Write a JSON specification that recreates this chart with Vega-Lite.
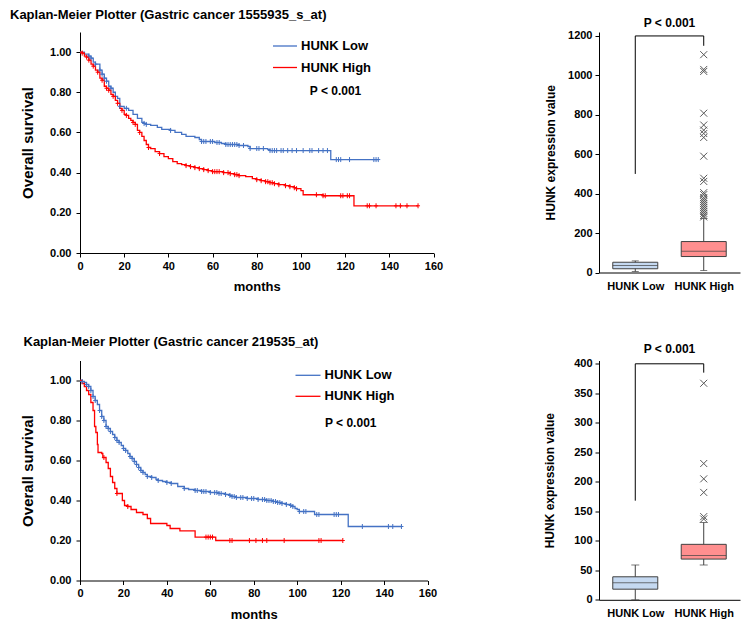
{
"$schema": "https://vega.github.io/schema/vega-lite/v6.json",
"padding": {"left": 10, "top": 9, "right": 5, "bottom": 5},
"columns": 2,
"spacing": {"row": 87.5, "column": 165},
"bounds": "flush",
"align": "each",
"resolve": {"scale": {"stroke": "independent", "fill": "independent", "x": "independent", "y": "independent"}, "legend": {"stroke": "independent"}},
"config": {
  "view": {"stroke": null},
  "font": "Liberation Sans",
  "axis": {"grid": false, "domainColor": "#000", "tickColor": "#000", "labelColor": "#000", "titleColor": "#000", "labelFontWeight": "bold", "titleFontWeight": "bold", "labelFontSize": 11, "tickSize": 4, "labelFont": "Liberation Sans", "titleFont": "Liberation Sans", "labelFlush": false, "labelOverlap": false}
},
"datasets": {
  "km1": [
    {"t":0,"s":1.0,"g":"HUNK Low","c":0},{"t":2,"s":0.99,"g":"HUNK Low","c":0},{"t":4,"s":0.98,"g":"HUNK Low","c":1},{"t":5,"s":0.97,"g":"HUNK Low","c":1},{"t":6,"s":0.95,"g":"HUNK Low","c":0},{"t":7,"s":0.94,"g":"HUNK Low","c":1},{"t":9,"s":0.91,"g":"HUNK Low","c":1},{"t":10,"s":0.89,"g":"HUNK Low","c":1},{"t":11,"s":0.87,"g":"HUNK Low","c":1},{"t":12,"s":0.855,"g":"HUNK Low","c":1},{"t":13,"s":0.83,"g":"HUNK Low","c":0},{"t":14,"s":0.82,"g":"HUNK Low","c":1},{"t":15,"s":0.8,"g":"HUNK Low","c":0},{"t":16,"s":0.78,"g":"HUNK Low","c":0},{"t":17,"s":0.77,"g":"HUNK Low","c":0},{"t":18,"s":0.73,"g":"HUNK Low","c":1},{"t":20,"s":0.72,"g":"HUNK Low","c":0},{"t":21,"s":0.72,"g":"HUNK Low","c":1},{"t":22,"s":0.71,"g":"HUNK Low","c":0},{"t":24,"s":0.69,"g":"HUNK Low","c":0},{"t":26,"s":0.67,"g":"HUNK Low","c":0},{"t":28,"s":0.65,"g":"HUNK Low","c":0},{"t":29,"s":0.645,"g":"HUNK Low","c":1},{"t":30,"s":0.64,"g":"HUNK Low","c":1},{"t":32,"s":0.635,"g":"HUNK Low","c":0},{"t":35,"s":0.625,"g":"HUNK Low","c":0},{"t":37,"s":0.615,"g":"HUNK Low","c":0},{"t":41,"s":0.61,"g":"HUNK Low","c":1},{"t":43,"s":0.6,"g":"HUNK Low","c":0},{"t":46,"s":0.59,"g":"HUNK Low","c":0},{"t":48,"s":0.58,"g":"HUNK Low","c":0},{"t":52,"s":0.575,"g":"HUNK Low","c":0},{"t":54,"s":0.565,"g":"HUNK Low","c":0},{"t":55,"s":0.555,"g":"HUNK Low","c":1},{"t":56,"s":0.555,"g":"HUNK Low","c":1},{"t":57,"s":0.555,"g":"HUNK Low","c":1},{"t":59,"s":0.555,"g":"HUNK Low","c":1},{"t":60,"s":0.555,"g":"HUNK Low","c":1},{"t":61,"s":0.55,"g":"HUNK Low","c":0},{"t":62,"s":0.55,"g":"HUNK Low","c":1},{"t":63,"s":0.55,"g":"HUNK Low","c":1},{"t":64,"s":0.545,"g":"HUNK Low","c":0},{"t":66,"s":0.54,"g":"HUNK Low","c":1},{"t":67,"s":0.54,"g":"HUNK Low","c":1},{"t":68,"s":0.54,"g":"HUNK Low","c":1},{"t":69,"s":0.54,"g":"HUNK Low","c":1},{"t":70,"s":0.54,"g":"HUNK Low","c":1},{"t":71,"s":0.54,"g":"HUNK Low","c":1},{"t":72,"s":0.535,"g":"HUNK Low","c":1},{"t":74,"s":0.535,"g":"HUNK Low","c":1},{"t":76,"s":0.53,"g":"HUNK Low","c":0},{"t":77,"s":0.52,"g":"HUNK Low","c":1},{"t":80,"s":0.52,"g":"HUNK Low","c":1},{"t":81,"s":0.52,"g":"HUNK Low","c":1},{"t":83,"s":0.52,"g":"HUNK Low","c":1},{"t":85,"s":0.515,"g":"HUNK Low","c":0},{"t":86,"s":0.51,"g":"HUNK Low","c":1},{"t":87,"s":0.51,"g":"HUNK Low","c":1},{"t":88,"s":0.51,"g":"HUNK Low","c":1},{"t":89,"s":0.51,"g":"HUNK Low","c":1},{"t":91,"s":0.51,"g":"HUNK Low","c":1},{"t":92,"s":0.51,"g":"HUNK Low","c":1},{"t":94,"s":0.51,"g":"HUNK Low","c":1},{"t":96,"s":0.51,"g":"HUNK Low","c":1},{"t":98,"s":0.51,"g":"HUNK Low","c":1},{"t":101,"s":0.51,"g":"HUNK Low","c":1},{"t":104,"s":0.51,"g":"HUNK Low","c":1},{"t":105,"s":0.51,"g":"HUNK Low","c":1},{"t":108,"s":0.51,"g":"HUNK Low","c":1},{"t":110,"s":0.51,"g":"HUNK Low","c":1},{"t":112,"s":0.51,"g":"HUNK Low","c":1},{"t":113.5,"s":0.465,"g":"HUNK Low","c":0},{"t":116,"s":0.465,"g":"HUNK Low","c":1},{"t":117,"s":0.465,"g":"HUNK Low","c":1},{"t":118,"s":0.465,"g":"HUNK Low","c":1},{"t":122,"s":0.465,"g":"HUNK Low","c":1},{"t":133,"s":0.465,"g":"HUNK Low","c":1},{"t":134,"s":0.465,"g":"HUNK Low","c":1},{"t":135,"s":0.465,"g":"HUNK Low","c":1},
    {"t":0,"s":1.0,"g":"HUNK High","c":0},{"t":1,"s":0.995,"g":"HUNK High","c":1},{"t":2,"s":0.98,"g":"HUNK High","c":0},{"t":3,"s":0.975,"g":"HUNK High","c":1},{"t":4,"s":0.96,"g":"HUNK High","c":1},{"t":5,"s":0.94,"g":"HUNK High","c":0},{"t":6,"s":0.93,"g":"HUNK High","c":1},{"t":7,"s":0.91,"g":"HUNK High","c":0},{"t":8,"s":0.9,"g":"HUNK High","c":1},{"t":9,"s":0.87,"g":"HUNK High","c":0},{"t":10,"s":0.86,"g":"HUNK High","c":1},{"t":11,"s":0.83,"g":"HUNK High","c":0},{"t":12,"s":0.82,"g":"HUNK High","c":1},{"t":13,"s":0.81,"g":"HUNK High","c":1},{"t":14,"s":0.79,"g":"HUNK High","c":0},{"t":15,"s":0.78,"g":"HUNK High","c":1},{"t":16,"s":0.76,"g":"HUNK High","c":0},{"t":17,"s":0.745,"g":"HUNK High","c":1},{"t":18,"s":0.72,"g":"HUNK High","c":0},{"t":19,"s":0.71,"g":"HUNK High","c":1},{"t":20,"s":0.69,"g":"HUNK High","c":0},{"t":21,"s":0.685,"g":"HUNK High","c":1},{"t":22,"s":0.67,"g":"HUNK High","c":0},{"t":23,"s":0.66,"g":"HUNK High","c":0},{"t":24,"s":0.65,"g":"HUNK High","c":1},{"t":25,"s":0.64,"g":"HUNK High","c":1},{"t":26,"s":0.61,"g":"HUNK High","c":0},{"t":27,"s":0.6,"g":"HUNK High","c":1},{"t":28,"s":0.58,"g":"HUNK High","c":0},{"t":29,"s":0.56,"g":"HUNK High","c":0},{"t":30,"s":0.54,"g":"HUNK High","c":0},{"t":31,"s":0.525,"g":"HUNK High","c":1},{"t":32,"s":0.52,"g":"HUNK High","c":0},{"t":34,"s":0.505,"g":"HUNK High","c":0},{"t":36,"s":0.495,"g":"HUNK High","c":1},{"t":38,"s":0.48,"g":"HUNK High","c":0},{"t":40,"s":0.47,"g":"HUNK High","c":0},{"t":42,"s":0.455,"g":"HUNK High","c":0},{"t":44,"s":0.445,"g":"HUNK High","c":0},{"t":46,"s":0.44,"g":"HUNK High","c":0},{"t":48,"s":0.435,"g":"HUNK High","c":1},{"t":50,"s":0.43,"g":"HUNK High","c":1},{"t":52,"s":0.425,"g":"HUNK High","c":1},{"t":54,"s":0.42,"g":"HUNK High","c":1},{"t":56,"s":0.415,"g":"HUNK High","c":1},{"t":58,"s":0.41,"g":"HUNK High","c":1},{"t":60,"s":0.405,"g":"HUNK High","c":1},{"t":61,"s":0.405,"g":"HUNK High","c":1},{"t":62,"s":0.405,"g":"HUNK High","c":1},{"t":63,"s":0.405,"g":"HUNK High","c":1},{"t":65,"s":0.4,"g":"HUNK High","c":1},{"t":67,"s":0.4,"g":"HUNK High","c":1},{"t":68,"s":0.395,"g":"HUNK High","c":1},{"t":70,"s":0.39,"g":"HUNK High","c":1},{"t":71,"s":0.39,"g":"HUNK High","c":1},{"t":72,"s":0.385,"g":"HUNK High","c":1},{"t":75,"s":0.38,"g":"HUNK High","c":0},{"t":78,"s":0.37,"g":"HUNK High","c":0},{"t":80,"s":0.365,"g":"HUNK High","c":1},{"t":82,"s":0.36,"g":"HUNK High","c":1},{"t":84,"s":0.355,"g":"HUNK High","c":1},{"t":85,"s":0.355,"g":"HUNK High","c":1},{"t":86,"s":0.35,"g":"HUNK High","c":1},{"t":87,"s":0.35,"g":"HUNK High","c":1},{"t":88,"s":0.345,"g":"HUNK High","c":1},{"t":90,"s":0.34,"g":"HUNK High","c":1},{"t":93,"s":0.335,"g":"HUNK High","c":1},{"t":95,"s":0.33,"g":"HUNK High","c":1},{"t":97,"s":0.325,"g":"HUNK High","c":1},{"t":98,"s":0.32,"g":"HUNK High","c":1},{"t":100,"s":0.31,"g":"HUNK High","c":0},{"t":101,"s":0.29,"g":"HUNK High","c":0},{"t":107,"s":0.29,"g":"HUNK High","c":1},{"t":110,"s":0.285,"g":"HUNK High","c":1},{"t":111,"s":0.285,"g":"HUNK High","c":1},{"t":118,"s":0.285,"g":"HUNK High","c":1},{"t":119,"s":0.285,"g":"HUNK High","c":1},{"t":121,"s":0.285,"g":"HUNK High","c":1},{"t":122,"s":0.285,"g":"HUNK High","c":1},{"t":124,"s":0.235,"g":"HUNK High","c":0},{"t":130,"s":0.235,"g":"HUNK High","c":1},{"t":131,"s":0.235,"g":"HUNK High","c":1},{"t":134,"s":0.235,"g":"HUNK High","c":1},{"t":143,"s":0.235,"g":"HUNK High","c":1},{"t":145,"s":0.235,"g":"HUNK High","c":1},{"t":148,"s":0.235,"g":"HUNK High","c":1},{"t":153,"s":0.235,"g":"HUNK High","c":1}
  ],
  "km2": [
    {"t":0,"s":1.0,"g":"HUNK Low","c":0},{"t":1,"s":0.995,"g":"HUNK Low","c":1},{"t":2,"s":0.99,"g":"HUNK Low","c":0},{"t":3,"s":0.98,"g":"HUNK Low","c":1},{"t":4,"s":0.97,"g":"HUNK Low","c":1},{"t":5,"s":0.95,"g":"HUNK Low","c":1},{"t":6,"s":0.92,"g":"HUNK Low","c":1},{"t":7,"s":0.9,"g":"HUNK Low","c":1},{"t":8,"s":0.88,"g":"HUNK Low","c":0},{"t":9,"s":0.85,"g":"HUNK Low","c":1},{"t":10,"s":0.82,"g":"HUNK Low","c":1},{"t":11,"s":0.8,"g":"HUNK Low","c":1},{"t":12,"s":0.77,"g":"HUNK Low","c":1},{"t":13,"s":0.76,"g":"HUNK Low","c":1},{"t":14,"s":0.745,"g":"HUNK Low","c":1},{"t":15,"s":0.73,"g":"HUNK Low","c":0},{"t":16,"s":0.715,"g":"HUNK Low","c":1},{"t":17,"s":0.7,"g":"HUNK Low","c":1},{"t":18,"s":0.69,"g":"HUNK Low","c":1},{"t":19,"s":0.675,"g":"HUNK Low","c":0},{"t":20,"s":0.66,"g":"HUNK Low","c":1},{"t":21,"s":0.65,"g":"HUNK Low","c":1},{"t":22,"s":0.635,"g":"HUNK Low","c":0},{"t":23,"s":0.62,"g":"HUNK Low","c":1},{"t":24,"s":0.61,"g":"HUNK Low","c":1},{"t":25,"s":0.595,"g":"HUNK Low","c":1},{"t":26,"s":0.58,"g":"HUNK Low","c":1},{"t":27,"s":0.565,"g":"HUNK Low","c":1},{"t":28,"s":0.55,"g":"HUNK Low","c":1},{"t":29,"s":0.54,"g":"HUNK Low","c":1},{"t":30,"s":0.53,"g":"HUNK Low","c":0},{"t":31,"s":0.52,"g":"HUNK Low","c":1},{"t":33,"s":0.515,"g":"HUNK Low","c":1},{"t":35,"s":0.505,"g":"HUNK Low","c":0},{"t":36,"s":0.5,"g":"HUNK Low","c":1},{"t":38,"s":0.495,"g":"HUNK Low","c":0},{"t":40,"s":0.49,"g":"HUNK Low","c":1},{"t":42,"s":0.485,"g":"HUNK Low","c":1},{"t":45,"s":0.47,"g":"HUNK Low","c":0},{"t":48,"s":0.46,"g":"HUNK Low","c":1},{"t":50,"s":0.455,"g":"HUNK Low","c":0},{"t":53,"s":0.45,"g":"HUNK Low","c":1},{"t":54,"s":0.45,"g":"HUNK Low","c":1},{"t":56,"s":0.445,"g":"HUNK Low","c":1},{"t":57,"s":0.445,"g":"HUNK Low","c":1},{"t":58,"s":0.445,"g":"HUNK Low","c":1},{"t":60,"s":0.44,"g":"HUNK Low","c":1},{"t":62,"s":0.44,"g":"HUNK Low","c":1},{"t":63,"s":0.44,"g":"HUNK Low","c":1},{"t":64,"s":0.435,"g":"HUNK Low","c":1},{"t":65,"s":0.435,"g":"HUNK Low","c":1},{"t":67,"s":0.43,"g":"HUNK Low","c":1},{"t":69,"s":0.425,"g":"HUNK Low","c":1},{"t":70,"s":0.42,"g":"HUNK Low","c":1},{"t":71,"s":0.42,"g":"HUNK Low","c":1},{"t":72,"s":0.415,"g":"HUNK Low","c":1},{"t":74,"s":0.415,"g":"HUNK Low","c":1},{"t":75,"s":0.415,"g":"HUNK Low","c":1},{"t":77,"s":0.41,"g":"HUNK Low","c":1},{"t":79,"s":0.41,"g":"HUNK Low","c":1},{"t":80,"s":0.41,"g":"HUNK Low","c":1},{"t":82,"s":0.405,"g":"HUNK Low","c":1},{"t":84,"s":0.405,"g":"HUNK Low","c":1},{"t":85,"s":0.405,"g":"HUNK Low","c":1},{"t":86,"s":0.4,"g":"HUNK Low","c":1},{"t":87,"s":0.4,"g":"HUNK Low","c":1},{"t":88,"s":0.4,"g":"HUNK Low","c":1},{"t":89,"s":0.395,"g":"HUNK Low","c":1},{"t":90,"s":0.395,"g":"HUNK Low","c":1},{"t":91,"s":0.39,"g":"HUNK Low","c":1},{"t":92,"s":0.39,"g":"HUNK Low","c":1},{"t":93,"s":0.385,"g":"HUNK Low","c":1},{"t":95,"s":0.38,"g":"HUNK Low","c":1},{"t":97,"s":0.375,"g":"HUNK Low","c":1},{"t":98,"s":0.37,"g":"HUNK Low","c":1},{"t":99,"s":0.36,"g":"HUNK Low","c":0},{"t":100,"s":0.355,"g":"HUNK Low","c":0},{"t":101,"s":0.345,"g":"HUNK Low","c":1},{"t":103,"s":0.345,"g":"HUNK Low","c":1},{"t":104,"s":0.345,"g":"HUNK Low","c":1},{"t":108,"s":0.33,"g":"HUNK Low","c":0},{"t":109,"s":0.33,"g":"HUNK Low","c":1},{"t":110,"s":0.33,"g":"HUNK Low","c":1},{"t":117,"s":0.33,"g":"HUNK Low","c":1},{"t":118,"s":0.33,"g":"HUNK Low","c":1},{"t":119,"s":0.33,"g":"HUNK Low","c":1},{"t":123.5,"s":0.27,"g":"HUNK Low","c":0},{"t":130,"s":0.27,"g":"HUNK Low","c":1},{"t":142,"s":0.27,"g":"HUNK Low","c":1},{"t":144,"s":0.27,"g":"HUNK Low","c":1},{"t":148,"s":0.27,"g":"HUNK Low","c":1},
    {"t":0,"s":1.0,"g":"HUNK High","c":0},{"t":1,"s":0.985,"g":"HUNK High","c":0},{"t":2,"s":0.97,"g":"HUNK High","c":0},{"t":3,"s":0.95,"g":"HUNK High","c":0},{"t":4,"s":0.93,"g":"HUNK High","c":0},{"t":5,"s":0.89,"g":"HUNK High","c":0},{"t":6,"s":0.85,"g":"HUNK High","c":0},{"t":6.7,"s":0.77,"g":"HUNK High","c":0},{"t":7.3,"s":0.74,"g":"HUNK High","c":0},{"t":8,"s":0.68,"g":"HUNK High","c":0},{"t":8.3,"s":0.64,"g":"HUNK High","c":0},{"t":10,"s":0.635,"g":"HUNK High","c":0},{"t":10.5,"s":0.615,"g":"HUNK High","c":0},{"t":11,"s":0.615,"g":"HUNK High","c":1},{"t":12,"s":0.59,"g":"HUNK High","c":0},{"t":13,"s":0.56,"g":"HUNK High","c":0},{"t":14,"s":0.52,"g":"HUNK High","c":0},{"t":15,"s":0.49,"g":"HUNK High","c":0},{"t":16,"s":0.46,"g":"HUNK High","c":0},{"t":17,"s":0.435,"g":"HUNK High","c":1},{"t":18.5,"s":0.435,"g":"HUNK High","c":0},{"t":19.5,"s":0.4,"g":"HUNK High","c":0},{"t":20.5,"s":0.375,"g":"HUNK High","c":0},{"t":22,"s":0.37,"g":"HUNK High","c":1},{"t":23.5,"s":0.355,"g":"HUNK High","c":0},{"t":26,"s":0.34,"g":"HUNK High","c":0},{"t":29,"s":0.33,"g":"HUNK High","c":0},{"t":31,"s":0.31,"g":"HUNK High","c":0},{"t":32.5,"s":0.285,"g":"HUNK High","c":0},{"t":40,"s":0.275,"g":"HUNK High","c":0},{"t":41.5,"s":0.26,"g":"HUNK High","c":0},{"t":46,"s":0.248,"g":"HUNK High","c":0},{"t":53,"s":0.217,"g":"HUNK High","c":0},{"t":58,"s":0.217,"g":"HUNK High","c":1},{"t":59,"s":0.217,"g":"HUNK High","c":1},{"t":60,"s":0.217,"g":"HUNK High","c":1},{"t":61,"s":0.217,"g":"HUNK High","c":1},{"t":62.5,"s":0.2,"g":"HUNK High","c":0},{"t":69,"s":0.2,"g":"HUNK High","c":1},{"t":70,"s":0.2,"g":"HUNK High","c":1},{"t":78,"s":0.2,"g":"HUNK High","c":1},{"t":81,"s":0.2,"g":"HUNK High","c":1},{"t":84,"s":0.2,"g":"HUNK High","c":1},{"t":86,"s":0.2,"g":"HUNK High","c":1},{"t":94,"s":0.2,"g":"HUNK High","c":1},{"t":110,"s":0.2,"g":"HUNK High","c":1},{"t":111,"s":0.2,"g":"HUNK High","c":1},{"t":121,"s":0.2,"g":"HUNK High","c":1}
  ],
  "box1": [{"g":"HUNK Low","lo":5,"q1":19,"med":35,"q3":52,"hi":59},{"g":"HUNK High","lo":10,"q1":81,"med":108,"q3":157,"hi":274}],
  "out1": [{"g":"HUNK High","v":1105},{"g":"HUNK High","v":1030},{"g":"HUNK High","v":1020},{"g":"HUNK High","v":808},{"g":"HUNK High","v":748},{"g":"HUNK High","v":722},{"g":"HUNK High","v":705},{"g":"HUNK High","v":685},{"g":"HUNK High","v":590},{"g":"HUNK High","v":478},{"g":"HUNK High","v":462},{"g":"HUNK High","v":405},{"g":"HUNK High","v":395},{"g":"HUNK High","v":380},{"g":"HUNK High","v":370},{"g":"HUNK High","v":360},{"g":"HUNK High","v":350},{"g":"HUNK High","v":340},{"g":"HUNK High","v":330},{"g":"HUNK High","v":320},{"g":"HUNK High","v":310},{"g":"HUNK High","v":300},{"g":"HUNK High","v":290},{"g":"HUNK High","v":282}],
  "leg1": [{"g":"HUNK Low","y1":500,"y2":1200},{"g":"HUNK High","y1":1150,"y2":1200}],
  "top1": [{"a":"HUNK Low","b":"HUNK High","y":1200}],
  "box2": [{"g":"HUNK Low","lo":0,"q1":18,"med":29,"q3":39,"hi":59},{"g":"HUNK High","lo":59,"q1":69,"med":75,"q3":94,"hi":131}],
  "out2": [{"g":"HUNK High","v":367},{"g":"HUNK High","v":231},{"g":"HUNK High","v":205},{"g":"HUNK High","v":182},{"g":"HUNK High","v":141},{"g":"HUNK High","v":137}],
  "leg2": [{"g":"HUNK Low","y1":168,"y2":400},{"g":"HUNK High","y1":385,"y2":400}],
  "top2": [{"a":"HUNK Low","b":"HUNK High","y":400}],
  "p1": [{"t":104,"s":0.806,"label":"P < 0.001"}],
  "p2": [{"t":112.8,"s":0.79,"label":"P < 0.001"}]
},
"concat": [
  {
    "width": 353.5, "height": 221,
    "title": {"text": "Kaplan-Meier Plotter (Gastric cancer 1555935_s_at)", "anchor": "start", "frame": "group", "dx": -70, "offset": -3, "fontSize": 13, "fontWeight": "bold", "font": "Liberation Sans", "baseline": "bottom", "color": "#000"},
    "layer": [
      {"data": {"name": "km1"}, "mark": {"type": "line", "interpolate": "step-after", "strokeWidth": 1.3},
       "encoding": {
         "x": {"field": "t", "type": "quantitative", "scale": {"domain": [0, 160], "nice": false}, "axis": {"values": [0,20,40,60,80,100,120,140,160], "title": "months", "titleFontSize": 13, "titlePadding": 9, "labelPadding": 3}},
         "y": {"field": "s", "type": "quantitative", "scale": {"domain": [0, 1.1], "nice": false}, "axis": {"values": [0,0.2,0.4,0.6,0.8,1], "format": ".2f", "title": "Overall survival", "titleFontSize": 15, "titlePadding": 14, "labelPadding": 5}},
         "stroke": {"field": "g", "type": "nominal", "scale": {"domain": ["HUNK Low", "HUNK High"], "range": ["#4472C4", "#FF0000"]},
           "legend": {"title": null, "orient": "none", "legendX": 192, "legendY": 1, "symbolType": "stroke", "symbolSize": 576, "symbolStrokeWidth": 1.3, "labelFontSize": 13, "labelFontWeight": "bold", "labelFont": "Liberation Sans", "labelColor": "#000", "labelOffset": 3, "rowPadding": 1.5}}
       }},
      {"data": {"name": "km1"}, "transform": [{"filter": "datum.c == 1"}],
       "mark": {"type": "point", "shape": "M0,-1L0,1M-0.8,0L0.8,0", "filled": false, "size": 25, "strokeWidth": 1, "opacity": 1},
       "encoding": {"x": {"field": "t", "type": "quantitative"}, "y": {"field": "s", "type": "quantitative"}, "stroke": {"field": "g", "type": "nominal"}}},
      {"data": {"name": "p1"}, "mark": {"type": "text", "align": "left", "baseline": "middle", "fontSize": 12, "fontWeight": "bold", "color": "#000"},
       "encoding": {"x": {"field": "t", "type": "quantitative"}, "y": {"field": "s", "type": "quantitative"}, "text": {"field": "label"}}}
    ]
  },
  {
    "width": 141, "height": 240.5,
    "title": {"text": "P < 0.001", "anchor": "middle", "frame": "group", "offset": -12, "fontSize": 12, "fontWeight": "bold", "font": "Liberation Sans", "baseline": "bottom", "color": "#000"},
    "layer": [
      {"data": {"name": "box1"}, "mark": {"type": "rule", "color": "#404040", "strokeWidth": 1},
       "encoding": {
         "x": {"field": "g", "type": "nominal", "scale": {"type": "point", "padding": 0.53, "domain": ["HUNK Low", "HUNK High"]}, "axis": {"title": null, "ticks": false, "labelPadding": 8, "labelAngle": 0, "labelFontSize": 11}},
         "y": {"field": "lo", "type": "quantitative", "scale": {"domain": [0, 1220], "nice": false}, "axis": {"values": [0,200,400,600,800,1000,1200], "format": "d", "labelOverlap": false, "title": "HUNK expression value", "titleFontSize": 12, "titlePadding": 10, "labelPadding": 3}},
         "y2": {"field": "hi"}
       }},
      {"data": {"name": "box1"}, "mark": {"type": "bar", "size": 45, "stroke": "#404040", "strokeWidth": 1},
       "encoding": {"x": {"field": "g", "type": "nominal"}, "y": {"field": "q1", "type": "quantitative"}, "y2": {"field": "q3"},
         "fill": {"field": "g", "type": "nominal", "scale": {"domain": ["HUNK Low", "HUNK High"], "range": ["#C5D9F1", "#FF8F8F"]}, "legend": null}}},
      {"data": {"name": "box1"}, "mark": {"type": "tick", "size": 45, "thickness": 1, "color": "#404040"},
       "encoding": {"x": {"field": "g", "type": "nominal"}, "y": {"field": "med", "type": "quantitative"}}},
      {"data": {"name": "box1"}, "mark": {"type": "tick", "size": 7, "thickness": 1, "color": "#404040"},
       "encoding": {"x": {"field": "g", "type": "nominal"}, "y": {"field": "hi", "type": "quantitative"}}},
      {"data": {"name": "box1"}, "mark": {"type": "tick", "size": 7, "thickness": 1, "color": "#404040"},
       "encoding": {"x": {"field": "g", "type": "nominal"}, "y": {"field": "lo", "type": "quantitative"}}},
      {"data": {"name": "out1"}, "mark": {"type": "point", "shape": "M-1,-1L1,1M-1,1L1,-1", "filled": false, "size": 49, "strokeWidth": 1, "color": "#595959", "opacity": 1},
       "encoding": {"x": {"field": "g", "type": "nominal"}, "y": {"field": "v", "type": "quantitative"}}},
      {"data": {"name": "leg1"}, "mark": {"type": "rule", "color": "#000", "strokeWidth": 1},
       "encoding": {"x": {"field": "g", "type": "nominal"}, "y": {"field": "y1", "type": "quantitative"}, "y2": {"field": "y2"}}},
      {"data": {"name": "top1"}, "mark": {"type": "rule", "color": "#000", "strokeWidth": 1},
       "encoding": {"x": {"field": "a", "type": "nominal"}, "x2": {"field": "b"}, "y": {"field": "y", "type": "quantitative"}}}
    ]
  },
  {
    "width": 347.5, "height": 220,
    "title": {"text": "Kaplan-Meier Plotter (Gastric cancer 219535_at)", "anchor": "start", "frame": "group", "dx": -56.5, "offset": -1, "fontSize": 13, "fontWeight": "bold", "font": "Liberation Sans", "baseline": "bottom", "color": "#000"},
    "layer": [
      {"data": {"name": "km2"}, "mark": {"type": "line", "interpolate": "step-after", "strokeWidth": 1.3},
       "encoding": {
         "x": {"field": "t", "type": "quantitative", "scale": {"domain": [0, 160], "nice": false}, "axis": {"values": [0,20,40,60,80,100,120,140,160], "title": "months", "titleFontSize": 13, "titlePadding": 10, "labelPadding": 3}},
         "y": {"field": "s", "type": "quantitative", "scale": {"domain": [0, 1.1], "nice": false}, "axis": {"values": [0,0.2,0.4,0.6,0.8,1], "format": ".2f", "title": "Overall survival", "titleFontSize": 15, "titlePadding": 14, "labelPadding": 5}},
         "stroke": {"field": "g", "type": "nominal", "scale": {"domain": ["HUNK Low", "HUNK High"], "range": ["#4472C4", "#FF0000"]},
           "legend": {"title": null, "orient": "none", "legendX": 214.5, "legendY": 1.3, "symbolType": "stroke", "symbolSize": 625, "symbolStrokeWidth": 1.3, "labelFontSize": 13, "labelFontWeight": "bold", "labelFont": "Liberation Sans", "labelColor": "#000", "labelOffset": 3, "rowPadding": -3}}
       }},
      {"data": {"name": "km2"}, "transform": [{"filter": "datum.c == 1"}],
       "mark": {"type": "point", "shape": "M0,-1L0,1M-0.8,0L0.8,0", "filled": false, "size": 25, "strokeWidth": 1, "opacity": 1},
       "encoding": {"x": {"field": "t", "type": "quantitative"}, "y": {"field": "s", "type": "quantitative"}, "stroke": {"field": "g", "type": "nominal"}}},
      {"data": {"name": "p2"}, "mark": {"type": "text", "align": "left", "baseline": "middle", "fontSize": 12, "fontWeight": "bold", "color": "#000"},
       "encoding": {"x": {"field": "t", "type": "quantitative"}, "y": {"field": "s", "type": "quantitative"}, "text": {"field": "label"}}}
    ]
  },
  {
    "width": 141, "height": 239.3,
    "title": {"text": "P < 0.001", "anchor": "middle", "frame": "group", "offset": -10, "fontSize": 12, "fontWeight": "bold", "font": "Liberation Sans", "baseline": "bottom", "color": "#000"},
    "layer": [
      {"data": {"name": "box2"}, "mark": {"type": "rule", "color": "#404040", "strokeWidth": 1},
       "encoding": {
         "x": {"field": "g", "type": "nominal", "scale": {"type": "point", "padding": 0.53, "domain": ["HUNK Low", "HUNK High"]}, "axis": {"title": null, "ticks": false, "labelPadding": 8, "labelAngle": 0, "labelFontSize": 11}},
         "y": {"field": "lo", "type": "quantitative", "scale": {"domain": [0, 405.6], "nice": false}, "axis": {"values": [0,50,100,150,200,250,300,350,400], "tickCount": 9, "format": "d", "labelOverlap": false, "title": "HUNK expression value", "titleFontSize": 12, "titlePadding": 17, "labelPadding": 3}},
         "y2": {"field": "hi"}
       }},
      {"data": {"name": "box2"}, "mark": {"type": "bar", "size": 45, "stroke": "#404040", "strokeWidth": 1},
       "encoding": {"x": {"field": "g", "type": "nominal"}, "y": {"field": "q1", "type": "quantitative", "axis": {"values": [0,50,100,150,200,250,300,350,400], "tickCount": 9, "format": "d", "labelOverlap": false, "title": "HUNK expression value", "titleFontSize": 12, "titlePadding": 17, "labelPadding": 3}}, "y2": {"field": "q3"},
         "fill": {"field": "g", "type": "nominal", "scale": {"domain": ["HUNK Low", "HUNK High"], "range": ["#C5D9F1", "#FF8F8F"]}, "legend": null}}},
      {"data": {"name": "box2"}, "mark": {"type": "tick", "size": 45, "thickness": 1, "color": "#404040"},
       "encoding": {"x": {"field": "g", "type": "nominal"}, "y": {"field": "med", "type": "quantitative", "axis": {"values": [0,50,100,150,200,250,300,350,400], "tickCount": 9, "format": "d", "labelOverlap": false, "title": "HUNK expression value", "titleFontSize": 12, "titlePadding": 17, "labelPadding": 3}}}},
      {"data": {"name": "box2"}, "mark": {"type": "tick", "size": 8, "thickness": 1, "color": "#404040"},
       "encoding": {"x": {"field": "g", "type": "nominal"}, "y": {"field": "hi", "type": "quantitative", "axis": {"values": [0,50,100,150,200,250,300,350,400], "tickCount": 9, "format": "d", "labelOverlap": false, "title": "HUNK expression value", "titleFontSize": 12, "titlePadding": 17, "labelPadding": 3}}}},
      {"data": {"name": "box2"}, "mark": {"type": "tick", "size": 8, "thickness": 1, "color": "#404040"},
       "encoding": {"x": {"field": "g", "type": "nominal"}, "y": {"field": "lo", "type": "quantitative", "axis": {"values": [0,50,100,150,200,250,300,350,400], "tickCount": 9, "format": "d", "labelOverlap": false, "title": "HUNK expression value", "titleFontSize": 12, "titlePadding": 17, "labelPadding": 3}}}},
      {"data": {"name": "out2"}, "mark": {"type": "point", "shape": "M-1,-1L1,1M-1,1L1,-1", "filled": false, "size": 49, "strokeWidth": 1, "color": "#595959", "opacity": 1},
       "encoding": {"x": {"field": "g", "type": "nominal"}, "y": {"field": "v", "type": "quantitative", "axis": {"values": [0,50,100,150,200,250,300,350,400], "tickCount": 9, "format": "d", "labelOverlap": false, "title": "HUNK expression value", "titleFontSize": 12, "titlePadding": 17, "labelPadding": 3}}}},
      {"data": {"name": "leg2"}, "mark": {"type": "rule", "color": "#000", "strokeWidth": 1},
       "encoding": {"x": {"field": "g", "type": "nominal"}, "y": {"field": "y1", "type": "quantitative", "axis": {"values": [0,50,100,150,200,250,300,350,400], "tickCount": 9, "format": "d", "labelOverlap": false, "title": "HUNK expression value", "titleFontSize": 12, "titlePadding": 17, "labelPadding": 3}}, "y2": {"field": "y2"}}},
      {"data": {"name": "top2"}, "mark": {"type": "rule", "color": "#000", "strokeWidth": 1},
       "encoding": {"x": {"field": "a", "type": "nominal"}, "x2": {"field": "b"}, "y": {"field": "y", "type": "quantitative", "axis": {"values": [0,50,100,150,200,250,300,350,400], "tickCount": 9, "format": "d", "labelOverlap": false, "title": "HUNK expression value", "titleFontSize": 12, "titlePadding": 17, "labelPadding": 3}}}}
    ]
  }
]
}
